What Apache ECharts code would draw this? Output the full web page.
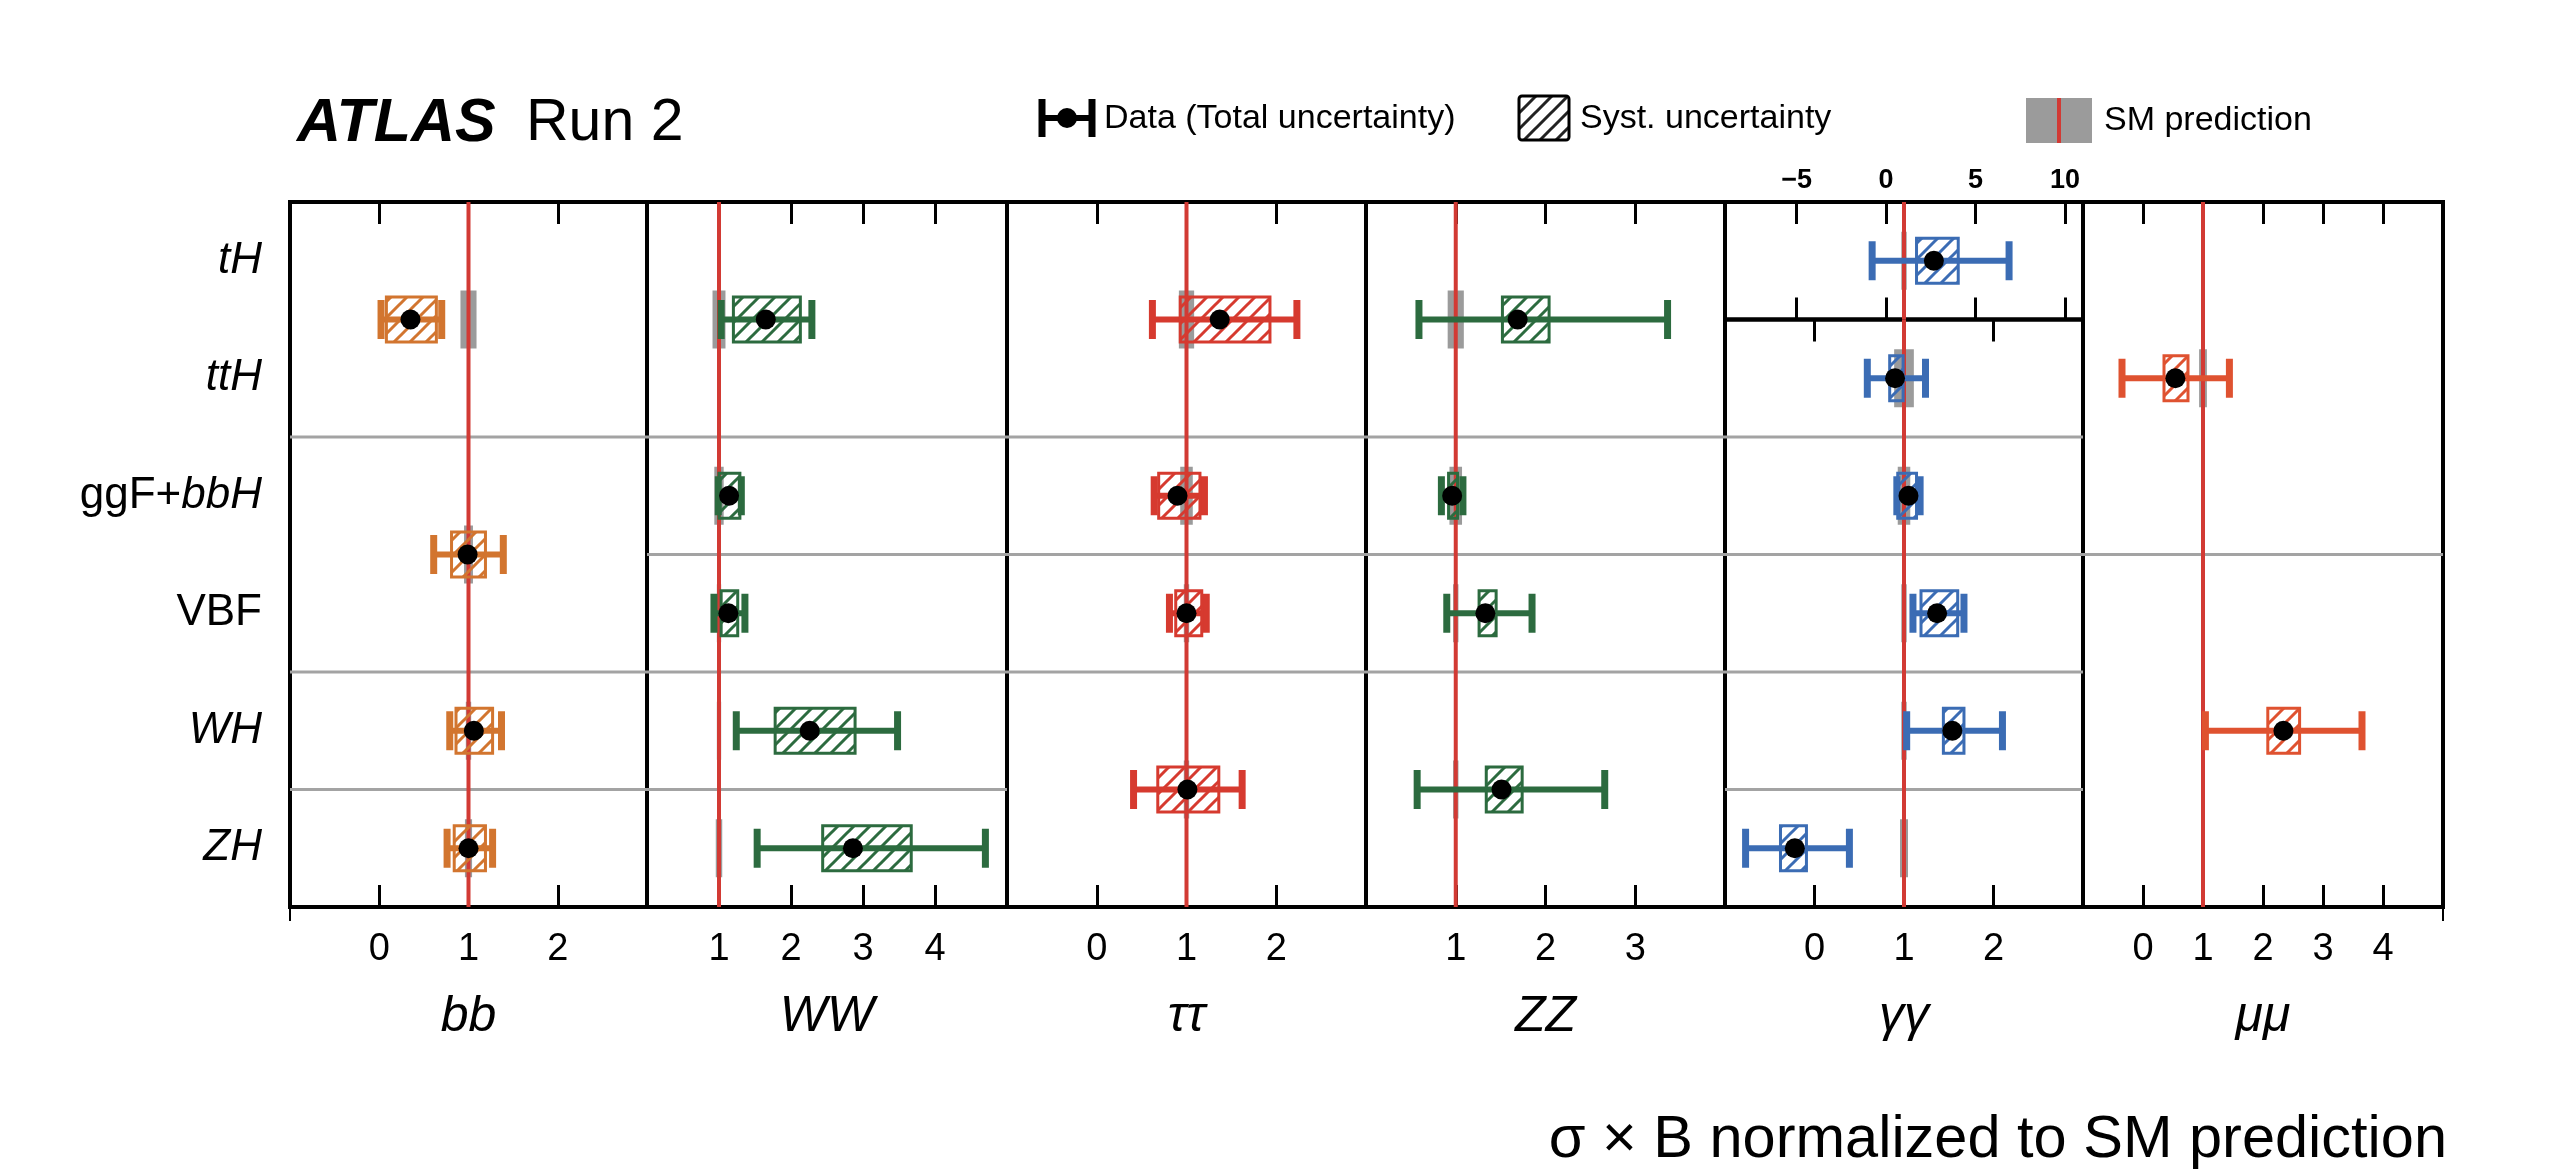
<!DOCTYPE html>
<html>
<head>
<meta charset="utf-8">
<title>ATLAS Run 2 - sigma x B normalized to SM prediction</title>
<script src="https://cdn.jsdelivr.net/npm/echarts@6/dist/echarts.min.js"></script>
<style>
  html, body { margin: 0; padding: 0; background: #fff; }
  #chart { width: 2560px; height: 1171px; }
</style>
</head>
<body>
<div id="chart"></div>
<script>
(function () {
  if (!window.echarts) {
    return;
  }

  // production modes, top to bottom
  var rowLabels = ['tH', 'ttH', 'ggF+bbH', 'VBF', 'WH', 'ZH'];
  // decay channels, left to right
  var channelNames = ['bb', 'WW', 'ττ', 'ZZ', 'γγ', 'μμ'];
  var channelColors = ['#d2752f', '#2c6b3f', '#d63a2f', '#2c6b3f', '#3b6cb4', '#df5230'];
  var axisMin = [-1, 0, -1, 0, -1, -1];
  var axisMax = [3, 5, 3, 4, 3, 5];
  // the gamma-gamma tH measurement has its own scale
  var tHAxisMin = -9;
  var tHAxisMax = 11;
  var tHTicks = [-5, 0, 5, 10];
  var smValue = 1;

  // row position (row units from top), value, total lo, total hi, syst lo, syst hi, SM half-width
  var bbPoints = [
    [1.0, 0.35, 0.02, 0.70, 0.08, 0.64, 0.09],
    [3.0, 0.99, 0.61, 1.39, 0.81, 1.19, 0.05],
    [4.5, 1.06, 0.79, 1.37, 0.86, 1.27, 0.03],
    [5.5, 1.00, 0.76, 1.27, 0.84, 1.19, 0.04]
  ];
  var wwPoints = [
    [1.0, 1.65, 1.03, 2.29, 1.20, 2.13, 0.09],
    [2.5, 1.14, 0.99, 1.31, 1.00, 1.29, 0.065],
    [3.5, 1.13, 0.93, 1.36, 1.03, 1.26, 0.03],
    [4.5, 2.26, 1.24, 3.48, 1.78, 2.89, 0.03],
    [5.5, 2.86, 1.53, 4.70, 2.44, 3.67, 0.045]
  ];
  var tautauPoints = [
    [1.0, 1.37, 0.62, 2.23, 0.93, 1.93, 0.085],
    [2.5, 0.90, 0.64, 1.20, 0.69, 1.15, 0.07],
    [3.5, 1.00, 0.81, 1.22, 0.88, 1.17, 0.03],
    [5.0, 1.01, 0.41, 1.62, 0.68, 1.36, 0.03]
  ];
  var zzPoints = [
    [1.0, 1.69, 0.59, 3.36, 1.52, 2.04, 0.09],
    [2.5, 0.96, 0.84, 1.08, 0.92, 1.02, 0.07],
    [3.5, 1.33, 0.90, 1.85, 1.26, 1.45, 0.03],
    [5.0, 1.51, 0.57, 2.66, 1.34, 1.74, 0.03]
  ];
  var gamgamTHPoints = [
    [0.5, 2.67, -0.78, 6.87, 1.70, 4.03, 0.15]
  ];
  var gamgamPoints = [
    [1.5, 0.90, 0.59, 1.24, 0.84, 0.99, 0.11],
    [2.5, 1.05, 0.92, 1.18, 0.93, 1.14, 0.07],
    [3.5, 1.37, 1.10, 1.67, 1.19, 1.60, 0.03],
    [4.5, 1.54, 1.03, 2.10, 1.44, 1.67, 0.03],
    [5.5, -0.22, -0.77, 0.39, -0.38, -0.09, 0.045]
  ];
  var mumuPoints = [
    [1.5, 0.54, -0.35, 1.44, 0.35, 0.75, 0.065],
    [4.5, 2.34, 1.04, 3.65, 2.08, 2.61, 0.03]
  ];

  // grey row separators (row boundaries)
  var bbSeps = [2, 4, 5];
  var wwSeps = [2, 3, 4, 5];
  var tautauSeps = [2, 3, 4];
  var zzSeps = [2, 3, 4];
  var gamgamSeps = [2, 3, 4, 5];
  var mumuSeps = [3];

  var allPoints = [bbPoints, wwPoints, tautauPoints, zzPoints, gamgamPoints, mumuPoints];
  var allSeps = [bbSeps, wwSeps, tautauSeps, zzSeps, gamgamSeps, mumuSeps];

  // layout
  var FONT = '"Liberation Sans", Arial, Helvetica, sans-serif';
  var edges = [290, 647, 1007, 1366, 1725, 2083, 2443];
  var plotTop = 202;
  var rowH = 117.5;
  var BAND_H = 58, BOX_H = 45, CAP_H = 39;

  function hatch(color) {
    var s = 16;
    var c = document.createElement('canvas');
    c.width = s;
    c.height = s;
    var ctx = c.getContext('2d');
    ctx.strokeStyle = color;
    ctx.lineWidth = 3;
    ctx.beginPath();
    ctx.moveTo(0, s); ctx.lineTo(s, 0);
    ctx.moveTo(-s / 2, s / 2); ctx.lineTo(s / 2, -s / 2);
    ctx.moveTo(s / 2, s * 1.5); ctx.lineTo(s * 1.5, s / 2);
    ctx.stroke();
    return { image: c, repeat: 'repeat' };
  }

  function sepRender(xmin, xmax) {
    return function (params, api) {
      var y = api.value(0);
      var a = api.coord([xmin, y]);
      var b = api.coord([xmax, y]);
      return {
        type: 'line',
        shape: { x1: a[0], y1: a[1], x2: b[0], y2: b[1] },
        style: { stroke: '#a3a3a3', lineWidth: 3 }
      };
    };
  }

  function bandRender(params, api) {
    var y = api.value(0);
    var h = api.value(6);
    var a = api.coord([smValue - h, y]);
    var b = api.coord([smValue + h, y]);
    return {
      type: 'rect',
      shape: { x: a[0], y: a[1] - BAND_H / 2, width: b[0] - a[0], height: BAND_H },
      style: { fill: '#9b9b9b' }
    };
  }

  function smLineRender(yMin, yMax) {
    return function (params, api) {
      var a = api.coord([api.value(0), yMin]);
      var b = api.coord([api.value(0), yMax]);
      return {
        type: 'line',
        shape: { x1: a[0], y1: a[1], x2: b[0], y2: b[1] },
        style: { stroke: '#d23a34', lineWidth: 4 }
      };
    };
  }

  function pointRender(color) {
    var pattern = hatch(color);
    return function (params, api) {
      var row = api.value(0);
      var c = api.coord([api.value(1), row]);
      var lo = api.coord([api.value(2), row]);
      var hi = api.coord([api.value(3), row]);
      var sl = api.coord([api.value(4), row]);
      var sh = api.coord([api.value(5), row]);
      var y = c[1];
      return {
        type: 'group',
        children: [
          { type: 'line', shape: { x1: lo[0], y1: y, x2: hi[0], y2: y }, style: { stroke: color, lineWidth: 6 } },
          { type: 'rect', shape: { x: lo[0] - 3.5, y: y - CAP_H / 2, width: 7, height: CAP_H }, style: { fill: color } },
          { type: 'rect', shape: { x: hi[0] - 3.5, y: y - CAP_H / 2, width: 7, height: CAP_H }, style: { fill: color } },
          { type: 'rect', shape: { x: sl[0], y: y - BOX_H / 2, width: sh[0] - sl[0], height: BOX_H },
            style: { fill: pattern, stroke: color, lineWidth: 3 } },
          { type: 'circle', shape: { cx: c[0], cy: y, r: 10 }, style: { fill: '#000' } }
        ]
      };
    };
  }

  var tickStyle = { color: '#000', width: 3 };
  var grids = [], xAxes = [], yAxes = [], series = [];

  function addPanel(g, opt) {
    grids.push({
      left: opt.left, top: opt.top, width: opt.width, height: opt.height,
      show: true, borderColor: '#000', borderWidth: 4, backgroundColor: 'transparent',
      containLabel: false, outerBoundsMode: 'none'
    });
    var bottom = {
      type: 'value', gridIndex: g, position: 'bottom', min: opt.xMin, max: opt.xMax,
      axisLine: { show: false, onZero: false },
      axisTick: { inside: true, length: 22, lineStyle: tickStyle },
      axisLabel: { show: !!opt.showLabels, showMinLabel: false, showMaxLabel: false,
        fontSize: 38, color: '#000', margin: 24, fontFamily: FONT },
      splitLine: { show: false }
    };
    var topAx = {
      type: 'value', gridIndex: g, position: 'top', min: opt.xMin, max: opt.xMax,
      axisLine: { show: false, onZero: false },
      axisTick: { inside: true, length: 22, lineStyle: tickStyle },
      axisLabel: { show: false },
      splitLine: { show: false }
    };
    if (opt.customTicks) {
      bottom.axisTick.customValues = opt.customTicks;
      topAx.axisTick.customValues = opt.customTicks;
      topAx.axisLabel = {
        show: true, customValues: opt.customTicks, fontSize: 27, fontWeight: 'bold',
        color: '#000', margin: 8, fontFamily: FONT,
        formatter: function (v) { return String(v).replace('-', '\u2212'); }
      };
    } else {
      bottom.interval = 1;
      topAx.interval = 1;
    }
    if (opt.name) {
      bottom.name = opt.name;
      bottom.nameLocation = 'middle';
      bottom.nameGap = 110;
      bottom.nameTextStyle = { fontSize: 50, fontStyle: 'italic', color: '#000',
        fontFamily: FONT, verticalAlign: 'middle' };
    }
    xAxes.push(bottom, topAx);
    yAxes.push({ type: 'value', gridIndex: g, min: opt.yMin, max: opt.yMax, inverse: true, show: false });

    var xi = xAxes.length - 2;
    var yi = yAxes.length - 1;
    if (opt.seps && opt.seps.length) {
      series.push({
        type: 'custom', xAxisIndex: xi, yAxisIndex: yi, z: 1, silent: true,
        renderItem: sepRender(opt.xMin, opt.xMax),
        data: opt.seps.map(function (v) { return [v]; })
      });
    }
    series.push({
      type: 'custom', xAxisIndex: xi, yAxisIndex: yi, z: 2, silent: true,
      renderItem: bandRender, encode: { x: [1, 2, 3], y: 0 },
      data: opt.points
    });
    series.push({
      type: 'custom', xAxisIndex: xi, yAxisIndex: yi, z: 3, silent: true,
      renderItem: smLineRender(opt.yMin, opt.yMax), encode: { x: 0 },
      data: [[smValue]]
    });
    series.push({
      type: 'custom', xAxisIndex: xi, yAxisIndex: yi, z: 4, silent: true,
      renderItem: pointRender(opt.color), encode: { x: [1, 2, 3, 4, 5], y: 0 },
      data: opt.points
    });
  }

  for (var i = 0; i < 6; i += 1) {
    var yMin = i === 4 ? 1 : 0;
    addPanel(i, {
      left: edges[i], top: plotTop + yMin * rowH,
      width: edges[i + 1] - edges[i], height: (6 - yMin) * rowH,
      xMin: axisMin[i], xMax: axisMax[i], yMin: yMin, yMax: 6,
      points: allPoints[i], seps: allSeps[i], color: channelColors[i],
      showLabels: true, name: channelNames[i]
    });
  }
  // gamma-gamma tH sub-panel
  addPanel(6, {
    left: edges[4], top: plotTop, width: edges[5] - edges[4], height: rowH,
    xMin: tHAxisMin, xMax: tHAxisMax, yMin: 0, yMax: 1,
    points: gamgamTHPoints, seps: [], color: channelColors[4],
    customTicks: tHTicks
  });

  // production mode labels on the first panel
  yAxes.push({
    type: 'category', gridIndex: 0, data: rowLabels, inverse: true, position: 'left',
    axisLine: { show: false }, axisTick: { show: false }, splitLine: { show: false },
    axisLabel: {
      margin: 28, color: '#000',
      formatter: function (v) {
        if (v === 'ggF+bbH') { return '{n|ggF+}{i|bbH}'; }
        if (v === 'VBF') { return '{n|VBF}'; }
        return '{i|' + v + '}';
      },
      rich: {
        n: { fontSize: 44, fontFamily: FONT, color: '#000' },
        i: { fontSize: 44, fontFamily: FONT, fontStyle: 'italic', color: '#000' }
      }
    }
  });

  var legendHatch = hatch('#222');
  var graphic = [
    { type: 'text', x: 297, y: 124, style: { text: 'ATLAS', font: 'italic bold 61px ' + FONT, fill: '#000', verticalAlign: 'middle' } },
    { type: 'text', x: 526, y: 124, style: { text: 'Run 2', font: '59px ' + FONT, fill: '#000', verticalAlign: 'middle' } },
    // legend: data
    { type: 'line', shape: { x1: 1042, y1: 118, x2: 1092, y2: 118 }, style: { stroke: '#000', lineWidth: 6 } },
    { type: 'rect', shape: { x: 1038.5, y: 99, width: 7, height: 38 }, style: { fill: '#000' } },
    { type: 'rect', shape: { x: 1088.5, y: 99, width: 7, height: 38 }, style: { fill: '#000' } },
    { type: 'circle', shape: { cx: 1067, cy: 118, r: 10 }, style: { fill: '#000' } },
    { type: 'text', x: 1104, y: 119, style: { text: 'Data (Total uncertainty)', font: '34px ' + FONT, fill: '#000', verticalAlign: 'middle' } },
    // legend: systematics
    { type: 'rect', shape: { x: 1519, y: 96, width: 50, height: 44, r: 3 }, style: { fill: legendHatch, stroke: '#000', lineWidth: 3 } },
    { type: 'text', x: 1580, y: 119, style: { text: 'Syst. uncertainty', font: '34px ' + FONT, fill: '#000', verticalAlign: 'middle' } },
    // legend: SM prediction
    { type: 'rect', shape: { x: 2026, y: 98, width: 66, height: 45 }, style: { fill: '#9b9b9b' } },
    { type: 'line', shape: { x1: 2059, y1: 98, x2: 2059, y2: 143 }, style: { stroke: '#d23a34', lineWidth: 4 } },
    { type: 'text', x: 2104, y: 121, style: { text: 'SM prediction', font: '34px ' + FONT, fill: '#000', verticalAlign: 'middle' } },
    // bottom frame end stubs
    { type: 'line', shape: { x1: 290, y1: 907, x2: 290, y2: 921 }, style: { stroke: '#000', lineWidth: 2 } },
    { type: 'line', shape: { x1: 2443, y1: 907, x2: 2443, y2: 921 }, style: { stroke: '#000', lineWidth: 2 } },
    // overall axis title
    { type: 'text', x: 2447, y: 1141, style: { text: 'σ × B normalized to SM prediction', font: '59.5px ' + FONT,
      fill: '#000', align: 'right', verticalAlign: 'middle' } }
  ];

  var chart = echarts.init(document.getElementById('chart'), null, { renderer: 'canvas' });
  chart.setOption({
    animation: false,
    backgroundColor: '#fff',
    textStyle: { fontFamily: FONT },
    grid: grids,
    xAxis: xAxes,
    yAxis: yAxes,
    series: series,
    graphic: graphic
  });
})();
</script>
</body>
</html>
